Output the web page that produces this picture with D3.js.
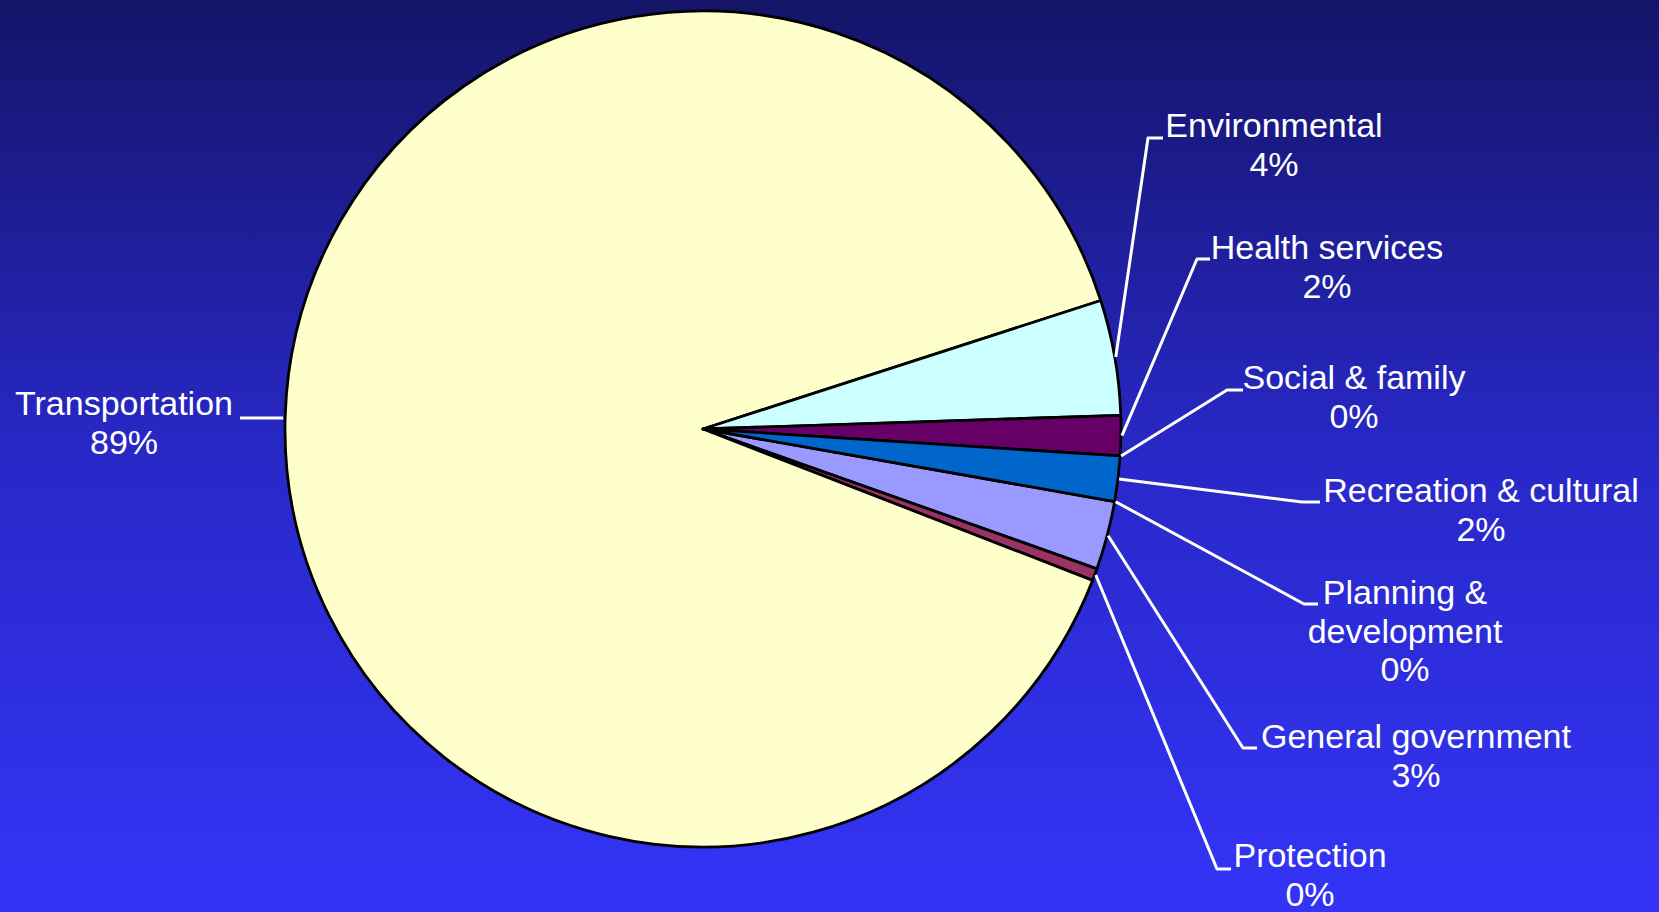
<!DOCTYPE html>
<html>
<head>
<meta charset="utf-8">
<script src="https://cdn.jsdelivr.net/npm/d3@7/dist/d3.min.js"></script>
<style>
  html, body { margin: 0; padding: 0; background: #2626c0; }
  svg { display: block; }
</style>
</head>
<body>
<svg id="chart" width="1659" height="912"></svg>
<script>
// ---- data (clockwise order, as in the source chart) ----
const categories = ["General government", "Protection", "Transportation", "Environmental",
                    "Health services", "Social & family", "Recreation & cultural", "Planning & development"];
const values = [2.65, 0.47, 89.13, 4.45, 1.55, 0, 1.75, 0];
const colors = ["#9999ff", "#993366", "#ffffcc", "#ccffff", "#660066", "#ff8080", "#0066cc", "#ccccff"];
// label text lines (category name split as in the chart)
const labelLines = [["General government"], ["Protection"], ["Transportation"], ["Environmental"],
                    ["Health services"], ["Social & family"], ["Recreation & cultural"], ["Planning &", "development"]];

// ---- layout ----
const W = 1659, H = 912;
const cx = 703, cy = 429, R = 418;
const startDeg = 100.0;
// label anchor: elbow point of leader (ex, ey), horizontal stub end (hx), text centre x, first baseline y
const labelLayout = [
  { ex: 1243, ey: 748, hx: 1257, tx: 1416, ty: 748 },
  { ex: 1217, ey: 869, hx: 1231, tx: 1310, ty: 867 },
  { ex: 240,  ey: 418, hx: 240,  tx: 124,  ty: 415, straight: true },
  { ex: 1148, ey: 138, hx: 1163, tx: 1274, ty: 137 },
  { ex: 1197, ey: 259, hx: 1210, tx: 1327, ty: 259 },
  { ex: 1227, ey: 390, hx: 1243, tx: 1354, ty: 389 },
  { ex: 1302, ey: 502, hx: 1320, tx: 1481, ty: 502 },
  { ex: 1304, ey: 604, hx: 1318, tx: 1405, ty: 604 }
];
const lineGap = 38.5;

const svg = d3.select("#chart");

// background gradient
const defs = svg.append("defs");
const grad = defs.append("linearGradient").attr("id", "bg")
  .attr("x1", 0).attr("y1", 0).attr("x2", 0).attr("y2", 1);
grad.append("stop").attr("offset", "0%").attr("stop-color", "#141468");
grad.append("stop").attr("offset", "50%").attr("stop-color", "#2828c8");
grad.append("stop").attr("offset", "100%").attr("stop-color", "#3434f8");
svg.append("rect").attr("width", W).attr("height", H).attr("fill", "url(#bg)");

const total = d3.sum(values);
const data = categories.map((c, i) => ({ name: c, value: values[i], color: colors[i], lines: labelLines[i], lay: labelLayout[i] }));

const pie = d3.pie().sort(null).value(d => d.value)
  .startAngle(startDeg * Math.PI / 180)
  .endAngle(startDeg * Math.PI / 180 + 2 * Math.PI);
const arcs = pie(data);
const arc = d3.arc().innerRadius(0).outerRadius(R);

const g = svg.append("g").attr("transform", `translate(${cx},${cy})`);

g.selectAll("path.slice")
  .data(arcs.filter(a => a.value > 0))
  .join("path")
  .attr("class", "slice")
  .attr("d", arc)
  .attr("fill", d => d.data.color)
  .attr("stroke", "#000")
  .attr("stroke-width", 2.8)
  .attr("stroke-linejoin", "round");

// leader lines and labels
const pct = v => Math.round(v / total * 100) + "%";
arcs.forEach(a => {
  const mid = (a.startAngle + a.endAngle) / 2;
  const px = cx + (R + 1) * Math.sin(mid);
  const py = cy - (R + 1) * Math.cos(mid);
  const L = a.data.lay;
  let pts;
  if (L.straight) pts = [[L.ex, L.ey], [px - 1, L.ey]];
  else pts = [[px, py], [L.ex, L.ey], [L.hx, L.ey]];
  svg.append("path")
    .attr("d", d3.line()(pts))
    .attr("fill", "none")
    .attr("stroke", "#fff")
    .attr("stroke-width", 3)
    .attr("stroke-linejoin", "round");

  const t = svg.append("text")
    .attr("x", L.tx).attr("y", L.ty)
    .attr("text-anchor", "middle")
    .attr("fill", "#fff")
    .attr("font-family", "'Liberation Sans', Arial, sans-serif")
    .attr("font-size", 34);
  const lines = a.data.lines.concat([pct(a.data.value)]);
  lines.forEach((ln, i) => {
    t.append("tspan").attr("x", L.tx).attr("y", L.ty + i * lineGap).text(ln);
  });
});
</script>
</body>
</html>
